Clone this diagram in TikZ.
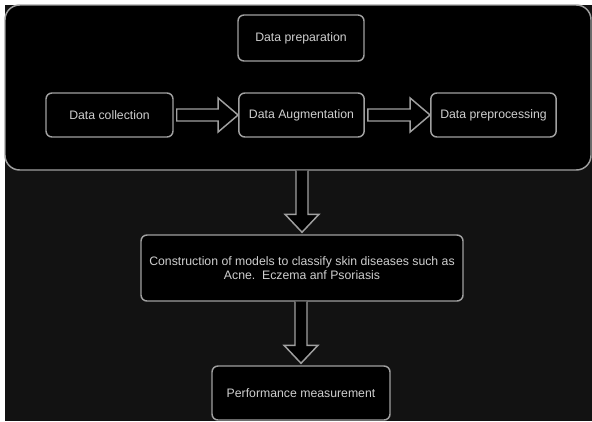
\documentclass[tikz,border=0pt]{standalone}
\usepackage{fontspec}
\setmainfont{Liberation Sans}
\usetikzlibrary{calc}

\definecolor{bgdark}{HTML}{121212}
\definecolor{edge}{HTML}{A0A0A0}
\definecolor{txt}{HTML}{CFCFCF}

\tikzset{
  stepbox/.style={rectangle,rounded corners=4.5pt,draw=edge,line width=1.1pt,
    fill=black,text=txt,font=\fontsize{9.2}{11}\selectfont,align=center},
  blockarrow/.style={draw=edge,line width=1.1pt,fill=black,line join=miter}
}

% hollow block arrows between named nodes
\newcommand\harrow[2]{%
  \draw[blockarrow] let \p1=(#1.east), \p2=(#2.west) in
    (\x1+2.25pt,\y1+4.5pt) -- (\x2-15pt,\y1+4.5pt) -- (\x2-15pt,\y1+12.75pt)
    -- (\x2,\y1) -- (\x2-15pt,\y1-12.75pt) -- (\x2-15pt,\y1-4.5pt)
    -- (\x1+2.25pt,\y1-4.5pt) -- cycle;}
\newcommand\varrow[2]{%
  \draw[blockarrow] let \p1=(#1.south), \p2=(#2.north) in
    (\x2-4.5pt,\y1) -- (\x2-4.5pt,\y2+15pt) -- (\x2-12.75pt,\y2+15pt)
    -- (\x2,\y2+1.5pt) -- (\x2+12.75pt,\y2+15pt) -- (\x2+4.5pt,\y2+15pt)
    -- (\x2+4.5pt,\y1);}

\begin{document}
\begin{tikzpicture}
  [x=0.75pt,y=-0.75pt]
  \useasboundingbox (0,0) rectangle (592,421);
  \fill[white] (0,0) rectangle (592,421);
  \fill[bgdark] (5,5) rectangle (592,421);

  \node[rectangle,rounded corners=11pt,draw=edge,line width=1.1pt,fill=black,
    minimum width=439.5pt,minimum height=123.75pt] (frame) at (298,87.5) {};

  \node[stepbox,minimum width=94.5pt,minimum height=34.5pt] (prep) at (301,38) {Data preparation};
  \node[stepbox,minimum width=95.25pt,minimum height=33pt] (col) at (109.5,115) {Data collection};
  \node[stepbox,minimum width=94pt,minimum height=33pt] (aug) at (301.5,115) {Data Augmentation};
  \node[stepbox,minimum width=94pt,minimum height=33pt] (pre) at (493.5,115) {Data preprocessing};
  \node[stepbox,minimum width=241.5pt,minimum height=49.5pt] (cons) at (302,268)
    {Construction of models to classify skin diseases such as\\Acne.\ \ Eczema anf Psoriasis};
  \node[stepbox,minimum width=133.5pt,minimum height=40.5pt] (perf) at (301,393) {Performance measurement};

  \foreach \from/\to in {col/aug,aug/pre}
    \harrow{\from}{\to};
  \foreach \from/\to in {frame/cons,cons/perf}
    \varrow{\from}{\to};
\end{tikzpicture}
\end{document}
